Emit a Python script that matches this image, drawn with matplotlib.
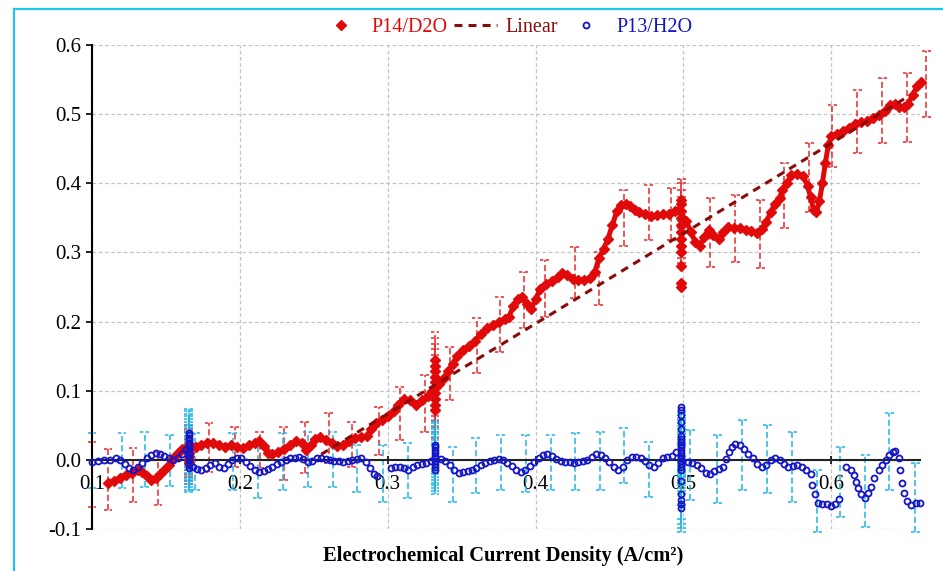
import numpy as np
import matplotlib.pyplot as plt
from matplotlib.lines import Line2D
from matplotlib.ticker import FormatStrFormatter, MultipleLocator

plt.rcParams['font.family'] = ['Liberation Serif', 'DejaVu Serif']
plt.rcParams['font.size'] = 14
plt.rcParams['axes.unicode_minus'] = False

RED = '#E00A0A'
DARKRED = '#8B0A0A'
BLUE = '#1414C8'
RED_ERR = '#E8282C'
CYAN = '#1EB4E6'
GRID = '#C4C4C4'

# P14/D2O main trace
red_x = [0.111, 0.115, 0.119, 0.123, 0.127, 0.131, 0.134, 0.137, 0.140, 0.143,
         0.146, 0.149, 0.152, 0.155, 0.158, 0.161, 0.164, 0.167, 0.170, 0.174,
         0.178, 0.182, 0.186, 0.190, 0.194, 0.198, 0.202, 0.206, 0.210, 0.213,
         0.216, 0.219, 0.222, 0.226, 0.230, 0.234, 0.238, 0.242, 0.245, 0.248,
         0.251, 0.254, 0.258, 0.262, 0.266, 0.270, 0.274, 0.278, 0.282, 0.286,
         0.289, 0.292, 0.296, 0.300, 0.304, 0.307, 0.311, 0.315, 0.319, 0.323,
         0.327, 0.330, 0.335, 0.338, 0.341, 0.344, 0.347, 0.351, 0.355, 0.359,
         0.363, 0.367, 0.371, 0.375, 0.379, 0.382, 0.385, 0.388, 0.391, 0.394,
         0.397, 0.400, 0.403, 0.407, 0.411, 0.415, 0.418, 0.421, 0.425, 0.429,
         0.433, 0.437, 0.440, 0.443, 0.446, 0.449, 0.452, 0.455, 0.458, 0.461,
         0.464, 0.467, 0.470, 0.474, 0.478, 0.482, 0.486, 0.490, 0.494, 0.497,
         0.502, 0.505, 0.508, 0.511, 0.514, 0.517, 0.520, 0.524, 0.527, 0.530,
         0.534, 0.538, 0.542, 0.546, 0.550, 0.553, 0.556, 0.559, 0.562, 0.565,
         0.567, 0.570, 0.573, 0.577, 0.581, 0.584, 0.586, 0.588, 0.590, 0.592,
         0.594, 0.596, 0.598, 0.600, 0.604, 0.608, 0.612, 0.616, 0.620, 0.624,
         0.628, 0.632, 0.636, 0.640, 0.643, 0.646, 0.649, 0.652, 0.655, 0.658,
         0.661]
red_y = [-0.033, -0.030, -0.026, -0.022, -0.019, -0.014, -0.018, -0.024, -0.029, -0.026,
         -0.021, -0.015, -0.007, 0.003, 0.010, 0.016, 0.019, 0.020, 0.019, 0.022,
         0.025, 0.025, 0.022, 0.019, 0.021, 0.018, 0.017, 0.021, 0.025, 0.027,
         0.020, 0.010, 0.008, 0.012, 0.016, 0.022, 0.027, 0.025, 0.014, 0.022,
         0.030, 0.033, 0.028, 0.024, 0.020, 0.022, 0.027, 0.031, 0.033, 0.034,
         0.045, 0.053, 0.058, 0.064, 0.071, 0.080, 0.088, 0.086, 0.080, 0.086,
         0.092, 0.100, 0.110, 0.118, 0.128, 0.139, 0.150, 0.159, 0.165, 0.172,
         0.182, 0.190, 0.195, 0.200, 0.204, 0.207, 0.222, 0.233, 0.235, 0.225,
         0.218, 0.232, 0.247, 0.254, 0.259, 0.264, 0.270, 0.267, 0.262, 0.260,
         0.260, 0.263, 0.272, 0.292, 0.305, 0.320, 0.340, 0.360, 0.369, 0.370,
         0.367, 0.362, 0.358, 0.355, 0.353, 0.354, 0.355, 0.356, 0.360, 0.362,
         0.345, 0.330, 0.315, 0.310, 0.322, 0.332, 0.325, 0.320, 0.330, 0.337,
         0.336, 0.335, 0.333, 0.331, 0.328, 0.334, 0.344, 0.358, 0.370, 0.378,
         0.390, 0.400, 0.412, 0.414, 0.410, 0.396, 0.380, 0.362, 0.358, 0.375,
         0.400, 0.430, 0.455, 0.468, 0.472, 0.475, 0.480, 0.486, 0.488, 0.490,
         0.495, 0.499, 0.505, 0.513, 0.515, 0.511, 0.510, 0.515, 0.528, 0.540,
         0.546]

# P14/D2O repeated readings at fixed current density
red_c1_x, red_c1_y, red_c1_e = 0.1655, [-0.005, 0.000, 0.005, 0.010, 0.015, 0.020], 0.030
red_c2_x, red_c2_y, red_c2_e = 0.332, [0.072, 0.080, 0.088, 0.096, 0.104, 0.112, 0.120, 0.128, 0.136, 0.145], 0.040
red_c3_x = 0.4986
red_c3_y = [0.250, 0.256, 0.280, 0.300, 0.310, 0.320, 0.330, 0.340, 0.350, 0.360, 0.370, 0.376]
red_c3_e = [0.0, 0.0, 0.0, 0.02, 0.025, 0.028, 0.03, 0.03, 0.03, 0.03, 0.03, 0.03]

# P14/D2O error bars (x, low, high)
red_err_x = [0.100, 0.1108, 0.1277, 0.1446, 0.1791, 0.1966, 0.2135, 0.2297, 0.2439, 0.2601,
             0.2757, 0.2939, 0.3081, 0.3250, 0.3419, 0.3601, 0.3757, 0.3919, 0.4061, 0.4264,
             0.4426, 0.4595, 0.4764, 0.4919, 0.5182, 0.5351, 0.5520, 0.5682, 0.5851, 0.6007,
             0.6176, 0.6345, 0.6514, 0.6642]
red_err_lo = [-0.068, -0.072, -0.061, -0.065, -0.017, -0.010, -0.012, -0.029, -0.019, -0.004,
              -0.010, 0.007, 0.029, 0.040, 0.087, 0.126, 0.156, 0.190, 0.207, 0.234,
              0.224, 0.310, 0.318, 0.318, 0.279, 0.286, 0.277, 0.335, 0.358, 0.423,
              0.444, 0.458, 0.460, 0.496]
red_err_hi = [0.026, 0.015, 0.017, 0.012, 0.053, 0.048, 0.040, 0.048, 0.055, 0.068,
              0.055, 0.077, 0.105, 0.123, 0.163, 0.205, 0.236, 0.272, 0.289, 0.308,
              0.300, 0.390, 0.397, 0.393, 0.379, 0.383, 0.376, 0.430, 0.458, 0.513,
              0.535, 0.552, 0.559, 0.592]

# Linear fit
lin_x = [0.255, 0.650]
lin_y = [0.008, 0.523]

# P13/H2O main trace
blue_x = [0.100, 0.104, 0.108, 0.112, 0.116, 0.119, 0.122, 0.125, 0.128, 0.131,
          0.134, 0.137, 0.140, 0.143, 0.146, 0.149, 0.152, 0.155, 0.158, 0.161,
          0.1635, 0.168, 0.171, 0.174, 0.177, 0.180, 0.183, 0.186, 0.189, 0.192,
          0.195, 0.198, 0.201, 0.204, 0.207, 0.210, 0.213, 0.216, 0.219, 0.222,
          0.225, 0.228, 0.231, 0.234, 0.237, 0.240, 0.243, 0.246, 0.249, 0.252,
          0.255, 0.258, 0.261, 0.264, 0.267, 0.270, 0.273, 0.276, 0.279, 0.282,
          0.285, 0.288, 0.291, 0.293, 0.302, 0.305, 0.308, 0.311, 0.314, 0.317,
          0.320, 0.323, 0.326, 0.329, 0.336, 0.339, 0.342, 0.345, 0.348, 0.351,
          0.354, 0.357, 0.360, 0.363, 0.366, 0.369, 0.372, 0.375, 0.378, 0.381,
          0.384, 0.387, 0.390, 0.393, 0.396, 0.399, 0.402, 0.405, 0.408, 0.411,
          0.414, 0.417, 0.420, 0.423, 0.426, 0.429, 0.432, 0.435, 0.438, 0.441,
          0.444, 0.447, 0.450, 0.453, 0.456, 0.459, 0.462, 0.465, 0.468, 0.471,
          0.474, 0.477, 0.480, 0.483, 0.486, 0.489, 0.492, 0.495, 0.503, 0.506,
          0.509, 0.512, 0.515, 0.518, 0.521, 0.524, 0.527, 0.529, 0.531, 0.533,
          0.535, 0.538, 0.541, 0.544, 0.547, 0.550, 0.553, 0.556, 0.559, 0.562,
          0.565, 0.568, 0.571, 0.574, 0.577, 0.580, 0.583, 0.586, 0.587, 0.589,
          0.591, 0.594, 0.597, 0.600, 0.6025, 0.605, 0.610, 0.6135, 0.6155, 0.617,
          0.618, 0.620, 0.6225, 0.6245, 0.627, 0.629, 0.632, 0.6345, 0.637, 0.639,
          0.6415, 0.643, 0.6455, 0.6465, 0.6475, 0.6495, 0.6515, 0.654, 0.657, 0.660]
blue_y = [-0.003, -0.002, 0.000, 0.000, 0.002, 0.000, -0.006, -0.012, -0.014, -0.010,
          -0.005, 0.002, 0.007, 0.010, 0.009, 0.006, 0.002, 0.000, 0.003, 0.008,
          0.015, -0.010, -0.013, -0.014, -0.012, -0.007, -0.005, -0.010, -0.012, -0.006,
          0.000, 0.003, 0.002, -0.003, -0.009, -0.014, -0.017, -0.016, -0.013, -0.010,
          -0.006, -0.003, 0.000, 0.002, 0.003, 0.004, 0.001, -0.003, -0.002, 0.002,
          0.003, 0.001, 0.000, -0.001, -0.002, -0.003, -0.002, 0.000, 0.001, 0.002,
          -0.003, -0.012, -0.020, -0.024, -0.012, -0.011, -0.010, -0.012, -0.014, -0.011,
          -0.008, -0.006, -0.004, -0.002, 0.001, -0.002, -0.007, -0.015, -0.019, -0.018,
          -0.016, -0.014, -0.012, -0.008, -0.004, -0.002, 0.000, 0.001, 0.000, -0.004,
          -0.009, -0.014, -0.017, -0.014, -0.009, -0.003, 0.003, 0.007, 0.008, 0.006,
          0.001, -0.002, -0.003, -0.003, -0.004, -0.003, -0.001, 0.000, 0.004, 0.009,
          0.007, 0.002, -0.003, -0.010, -0.014, -0.011, 0.000, 0.004, 0.004, 0.002,
          -0.002, -0.008, -0.011, -0.004, 0.002, 0.004, 0.006, 0.012, -0.003, -0.004,
          -0.007, -0.012, -0.019, -0.020, -0.016, -0.013, -0.010, 0.001, 0.012, 0.019,
          0.023, 0.022, 0.016, 0.008, 0.002, -0.006, -0.010, -0.007, 0.000, 0.003,
          0.000, -0.006, -0.011, -0.009, -0.007, -0.010, -0.014, -0.020, -0.036, -0.050,
          -0.063, -0.064, -0.064, -0.067, -0.064, -0.057, -0.010, -0.014, -0.022, -0.032,
          -0.040, -0.050, -0.055, -0.048, -0.039, -0.026, -0.014, -0.007, 0.000, 0.007,
          0.012, 0.013, 0.003, -0.014, -0.033, -0.048, -0.060, -0.066, -0.063, -0.062]

# P13/H2O repeated readings
blue_c1_x = 0.1655
blue_c1_y = [-0.012, -0.008, -0.004, 0.000, 0.004, 0.008, 0.012, 0.016, 0.020, 0.024, 0.028, 0.032, 0.036, 0.039]
blue_c1_e = 0.035
blue_c2_x = 0.332
blue_c2_y = [-0.014, -0.010, -0.006, -0.002, 0.002, 0.006, 0.010, 0.014, 0.018, 0.022]
blue_c2_e = 0.035
blue_c3_x = 0.4986
blue_c3_y = [-0.069, -0.064, -0.058, -0.050, -0.030, -0.014, -0.010, -0.006, -0.002, 0.002,
             0.006, 0.010, 0.014, 0.018, 0.022, 0.026, 0.030, 0.034, 0.045, 0.055,
             0.065, 0.072, 0.077]
blue_c3_e = [0.035, 0.035, 0.035, 0.035, 0.035, 0.035, 0.035, 0.035, 0.035, 0.035,
             0.035, 0.035, 0.035, 0.035, 0.035, 0.035, 0.035, 0.035, 0.0, 0.0,
             0.0, 0.0, 0.0]

# P13/H2O error bars (x, low, high)
blue_err_x = [0.100, 0.1203, 0.1358, 0.1527, 0.1699, 0.1953, 0.2122, 0.2291, 0.2460, 0.2628,
              0.2790, 0.2966, 0.3135, 0.3439, 0.3595, 0.3764, 0.3932, 0.4101, 0.4270, 0.4439,
              0.4595, 0.4764, 0.5047, 0.5230, 0.5399, 0.5568, 0.5736, 0.5905, 0.6061, 0.6230,
              0.6392, 0.6568]
blue_err_lo = [-0.040, -0.040, -0.039, -0.038, -0.043, -0.043, -0.055, -0.043, -0.039, -0.039,
               -0.046, -0.061, -0.055, -0.061, -0.048, -0.043, -0.046, -0.043, -0.043, -0.043,
               -0.033, -0.053, -0.058, -0.062, -0.043, -0.048, -0.061, -0.104, -0.082, -0.097,
               -0.043, -0.104]
blue_err_hi = [0.039, 0.039, 0.040, 0.036, 0.039, 0.039, 0.029, 0.039, 0.040, 0.040,
               0.022, 0.022, 0.025, 0.019, 0.032, 0.036, 0.036, 0.036, 0.039, 0.040,
               0.046, 0.026, 0.043, 0.036, 0.058, 0.051, 0.040, -0.014, 0.019, 0.007,
               0.068, -0.004]

x_ticks = [0.1, 0.2, 0.3, 0.4, 0.5, 0.6]


def draw_bars(ax, xs, lo, hi, color):
    xs = np.asarray(xs, float)
    lo = np.asarray(lo, float)
    hi = np.asarray(hi, float)
    keep = hi > lo
    xs, lo, hi = xs[keep], lo[keep], hi[keep]
    ax.vlines(xs, lo, hi, colors=color, linestyles=(0, (4, 2)), lw=1.1,
              zorder=2, clip_on=False)
    w = 0.003
    ax.hlines(np.concatenate([lo, hi]), np.concatenate([xs - w, xs - w]),
              np.concatenate([xs + w, xs + w]), colors=color,
              linestyles=(0, (2.2, 1.5)), lw=1.1, zorder=2, clip_on=False)


fig = plt.figure(figsize=(9.43, 5.71), dpi=100)
ax = fig.add_axes([92 / 943, 42 / 571, 828 / 943, 484 / 571])

# error bars first (behind the markers)
draw_bars(ax, red_err_x, red_err_lo, red_err_hi, RED_ERR)
for cx, cy, ce in [(red_c1_x, red_c1_y, red_c1_e), (red_c2_x, red_c2_y, red_c2_e),
                   (red_c3_x, red_c3_y, red_c3_e)]:
    cy = np.asarray(cy)
    draw_bars(ax, [cx] * len(cy), cy - ce, cy + ce, RED_ERR)
draw_bars(ax, blue_err_x, blue_err_lo, blue_err_hi, CYAN)
for cx, cy, ce in [(blue_c1_x, blue_c1_y, blue_c1_e), (blue_c2_x, blue_c2_y, blue_c2_e),
                   (blue_c3_x, blue_c3_y, blue_c3_e)]:
    cy = np.asarray(cy)
    draw_bars(ax, [cx] * len(cy), cy - np.asarray(ce), cy + np.asarray(ce), CYAN)

# P14/D2O
ax.plot(red_x, red_y, color=RED, lw=3.6, zorder=3, clip_on=False)
ax.plot(red_x, red_y, 'D', ms=5.2, color=RED, ls='none', zorder=3, clip_on=False,
        label='P14/D2O')
for cx, cy in [(red_c1_x, red_c1_y), (red_c2_x, red_c2_y), (red_c3_x, red_c3_y)]:
    ax.plot([cx] * len(cy), cy, 'D', ms=5.2, color=RED, ls='none', zorder=3, clip_on=False)

# Linear
ax.plot(lin_x, lin_y, color=DARKRED, lw=2.2, ls=(0, (2.6, 2)), zorder=5,
        clip_on=False, label='Linear')

# P13/H2O
ax.plot(blue_x, blue_y, 'o', ms=4.3, mfc='none', mec=BLUE, mew=1.3, ls='none',
        zorder=4, clip_on=False, label='P13/H2O')
for cx, cy in [(blue_c1_x, blue_c1_y), (blue_c2_x, blue_c2_y), (blue_c3_x, blue_c3_y)]:
    ax.plot([cx] * len(cy), cy, 'o', ms=4.3, mfc='none', mec=BLUE, mew=1.3, ls='none',
            zorder=4, clip_on=False)

# axes
ax.set_xlim(0.1, 0.66)
ax.set_ylim(-0.1, 0.6)
ax.set_xticks(x_ticks)
ax.yaxis.set_major_locator(MultipleLocator(0.1))
ax.xaxis.set_major_formatter(FormatStrFormatter('%.1f'))
ax.yaxis.set_major_formatter(FormatStrFormatter('%.1f'))

ax.spines['top'].set_visible(False)
ax.spines['right'].set_visible(False)
ax.spines['bottom'].set_position(('data', 0))
ax.spines['bottom'].set_color('#222222')
ax.spines['bottom'].set_linewidth(1.5)
ax.spines['left'].set_linewidth(1.5)

ax.grid(True, color=GRID, ls=(0, (3, 2)), lw=0.9)
ax.tick_params(axis='y', direction='out', length=4, width=1.2, pad=3.5, labelsize=15)
ax.tick_params(axis='x', direction='inout', length=6, width=1.2, pad=8, labelsize=15)

leg = ax.legend(loc='center', bbox_to_anchor=(0.5, 1.037), ncol=3, frameon=False,
                handlelength=2.15, handletextpad=0.45, columnspacing=0.3, fontsize=14.5,
                borderaxespad=0, numpoints=1)
for txt, col in zip(leg.get_texts(), [RED, DARKRED, BLUE]):
    txt.set_color(col)

fig.text(503 / 943, 1 - 556 / 571, 'Electrochemical Current Density (A/cm\u00b2)',
         ha='center', va='center', fontsize=14.8, fontweight='bold')

# light blue frame of the chart area
fig.add_artist(Line2D([14 / 943, 14 / 943], [0, 1 - 9 / 571], transform=fig.transFigure,
                      color='#22C4EE', lw=1.6))
fig.add_artist(Line2D([14 / 943, 1], [1 - 9 / 571, 1 - 9 / 571], transform=fig.transFigure,
                      color='#22C4EE', lw=1.6))

fig.savefig('out.png', dpi=100)
